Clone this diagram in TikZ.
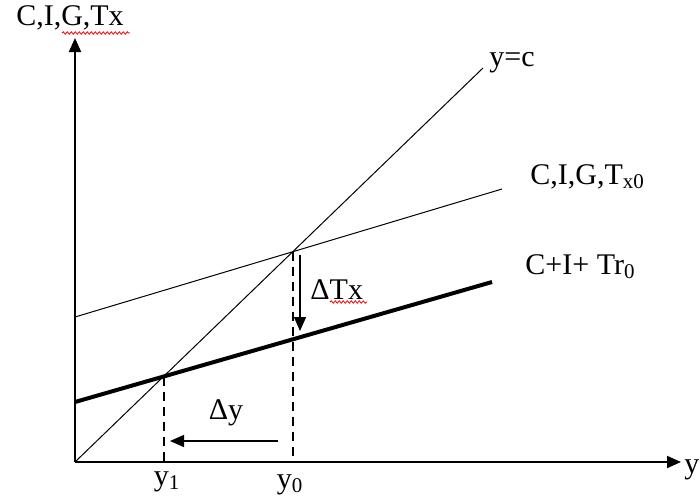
\documentclass[tikz,border=0pt]{standalone}
\usepackage{fontspec}
\setmainfont{Liberation Serif}
\usetikzlibrary{arrows.meta,intersections,decorations.pathmorphing}

\begin{document}
\begin{tikzpicture}[x=0.5pt,y=-0.5pt,
    axis/.style={line width=1pt,-{Triangle[length=7pt,width=6pt]}},
    thinline/.style={line width=0.5pt},
    thickline/.style={line width=2pt},
    guide/.style={line width=1pt,dash pattern=on 4.5pt off 3pt},
    movearrow/.style={line width=0.7pt,-{Triangle[length=7pt,width=6pt]}},
    lbl/.style={inner sep=0pt,font=\fontsize{15}{17}\selectfont},
    squiggle/.style={red,line width=0.4pt,decorate,decoration={snake,amplitude=0.6pt,segment length=2pt}}]
                \useasboundingbox (0,0) rectangle (700,498);
                % axes
                \coordinate (O) at (75,462);
                \coordinate (ytop) at (75,38);
                \coordinate (xend) at (681,462);
                \draw[axis] (O) -- (ytop);
                \draw[axis] (O) -- (xend);
                \node[lbl] (ylab) at (70,18) {C,I,G,Tx};
                \node[lbl,anchor=west] (xlab) at (684,470) {y};
                \draw[squiggle] (62,33) -- (130,33);
                % lines
                \draw[thinline,name path=diag] (O) -- (483,68);
                \draw[thinline,name path=upper] (75,317) -- (502,189);
                \draw[thickline,name path=lower] (75,402) -- (492,282);
                \node[lbl,anchor=west] (diaglab) at (489,63) {y=c};
                \node[lbl,anchor=west] (upperlab) at (530,177) {C,I,G,T\textsubscript{x0}};
                \node[lbl,anchor=west] (lowerlab) at (525,267) {C+I+ Tr\textsubscript{0}};
                % equilibria
                \path[name intersections={of=diag and upper,by=E0}];
                \path[name intersections={of=diag and lower,by=E1}];
                \draw[guide] (E0) -- (E0 |- O);
                \draw[guide] (E1) -- (E1 |- O);
                \node[lbl] (y1) at (167,482) {y\textsubscript{1}};
                \node[lbl] (y0) at (290,485) {y\textsubscript{0}};
                % shifts
                \coordinate (dtA) at (300,255);
                \coordinate (dtB) at (300,331);
                \draw[movearrow] (dtA) -- (dtB);
                \node[lbl,anchor=west] (dtlab) at (310,290) {ΔTx};
                \draw[squiggle] (330,302) -- (367,302);
                \coordinate (dyA) at (278,441);
                \coordinate (dyB) at (170,441);
                \draw[movearrow] (dyA) -- (dyB);
                \node[lbl] (dylab) at (226,413) {Δy};
            \end{tikzpicture}
\end{document}
